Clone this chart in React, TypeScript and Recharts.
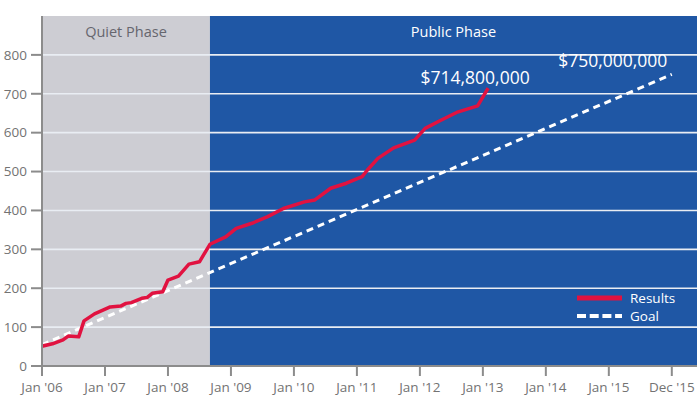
import React from "react";
import {
  LineChart,
  Line,
  XAxis,
  YAxis,
  ReferenceArea,
  ReferenceLine,
  LabelList,
} from "recharts";

// x values are months counted from Jan 2006
const resultMonths = [0, 2, 4, 5, 7, 8, 10, 13, 15, 16, 17, 19, 20, 21, 23, 24, 26, 28, 30, 32, 35, 37, 40, 43, 46, 50, 52, 55, 58, 61, 62, 64, 67, 71, 73, 76, 79, 83, 85];
const resultValues = [51, 57, 67, 77, 75, 116, 134, 152, 154, 161, 163, 174, 176, 187, 191, 221, 231, 262, 268, 313, 332, 354, 367, 384, 405, 422, 427, 457, 470, 487, 504, 534, 561, 581, 611, 632, 652, 669, 714.8];

const goalMonths = [0, 120];
const goalValues = [55, 750];

const tickMonths = [0, 12, 24, 36, 48, 60, 72, 84, 96, 108, 120];
const tickLabels = ["Jan '06", "Jan '07", "Jan '08", "Jan '09", "Jan '10", "Jan '11", "Jan '12", "Jan '13", "Jan '14", "Jan '15", "Dec '15"];
const yTicks = [0, 100, 200, 300, 400, 500, 600, 700, 800];

const quietPhaseEnd = 32;
const xMax = 124.8;

const results = resultMonths.map((m, i) => ({ m, value: resultValues[i] }));
const goal = goalMonths.map((m, i) => ({ m, value: goalValues[i] }));

const GRAY = "#cdcdd3";
const BLUE = "#1f57a5";
const RED = "#e11240";
const AXIS = "#8c8c8c";
const FONT = "'Open Sans', sans-serif";

const money = (v: number) => "$" + Math.round(v * 1e6).toLocaleString("en-US");

// only the last point of a series gets its dollar label
const endLabel = (last: number, dx: number, dy: number) => (props: any) => {
  if (props.index !== last) return null;
  return (
    <text
      x={props.x + dx}
      y={props.y + dy}
      textAnchor="middle"
      fill="#fff"
      fontSize={17.5}
      fontFamily={FONT}
    >
      {money(props.value)}
    </text>
  );
};

function LegendBox() {
  const row = { display: "flex", alignItems: "center", height: 18.5 };
  const label = {
    color: "#fff",
    fontFamily: FONT,
    fontSize: 13.5,
    lineHeight: "18px",
    marginLeft: 8,
  };
  return (
    <div style={{ position: "absolute", left: 577, top: 288.5 }}>
      <div style={row}>
        <svg width={45} height={6}>
          <line x1={0} y1={3} x2={45} y2={3} stroke={RED} strokeWidth={5} />
        </svg>
        <span style={label}>Results</span>
      </div>
      <div style={row}>
        <svg width={45} height={6}>
          <line x1={0} y1={3} x2={45} y2={3} stroke="#fff" strokeWidth={4} strokeDasharray="9 3.7" />
        </svg>
        <span style={label}>Goal</span>
      </div>
    </div>
  );
}

export default function App() {
  return (
    <div style={{ position: "absolute", left: 0, top: 0, width: 700, height: 415, background: "#fff" }}>
      <LineChart width={700} height={415} margin={{ top: 16, right: 3, bottom: 19, left: 0 }}>
        <XAxis
          dataKey="m"
          type="number"
          domain={[0, xMax]}
          ticks={tickMonths}
          tickFormatter={(v: number) => tickLabels[tickMonths.indexOf(v)]}
          allowDataOverflow
          height={30}
          tickSize={10}
          tickMargin={6}
          axisLine={{ stroke: AXIS, strokeWidth: 2 }}
          tickLine={{ stroke: AXIS, strokeWidth: 2 }}
          tick={{ fill: "#737373", fontSize: 13.5, fontFamily: FONT }}
        />
        <YAxis
          dataKey="value"
          type="number"
          domain={[0, 900]}
          ticks={yTicks}
          width={42}
          tickSize={11}
          tickMargin={4}
          axisLine={{ stroke: AXIS, strokeWidth: 2 }}
          tickLine={{ stroke: AXIS, strokeWidth: 2 }}
          tick={{ fill: "#737373", fontSize: 13.5, fontFamily: FONT }}
        />
        <ReferenceArea
          x1={0}
          x2={quietPhaseEnd}
          y1={0}
          y2={900}
          fill={GRAY}
          fillOpacity={1}
          label={{ value: "Quiet Phase", position: "insideTop", offset: 11, fill: "#66666e", fontSize: 14.5, fontFamily: FONT }}
        />
        <ReferenceArea
          x1={quietPhaseEnd}
          x2={xMax}
          y1={0}
          y2={900}
          fill={BLUE}
          fillOpacity={1}
          label={{ value: "Public Phase", position: "insideTop", offset: 11, fill: "#fff", fontSize: 14.5, fontFamily: FONT }}
        />
        {yTicks.slice(1).map((t) => (
          <ReferenceLine key={t} y={t} stroke="#e9edf3" strokeWidth={1.6} />
        ))}
        <Line
          data={goal}
          dataKey="value"
          stroke="#fff"
          strokeWidth={3}
          strokeDasharray="7 5"
          dot={false}
          isAnimationActive={false}
        >
          <LabelList dataKey="value" content={endLabel(goal.length - 1, -59, -7)} />
        </Line>
        <Line
          data={results}
          dataKey="value"
          stroke={RED}
          strokeWidth={3.5}
          strokeLinejoin="round"
          dot={false}
          isAnimationActive={false}
        >
          <LabelList dataKey="value" content={endLabel(results.length - 1, -13, -4)} />
        </Line>
      </LineChart>
      <LegendBox />
    </div>
  );
}
